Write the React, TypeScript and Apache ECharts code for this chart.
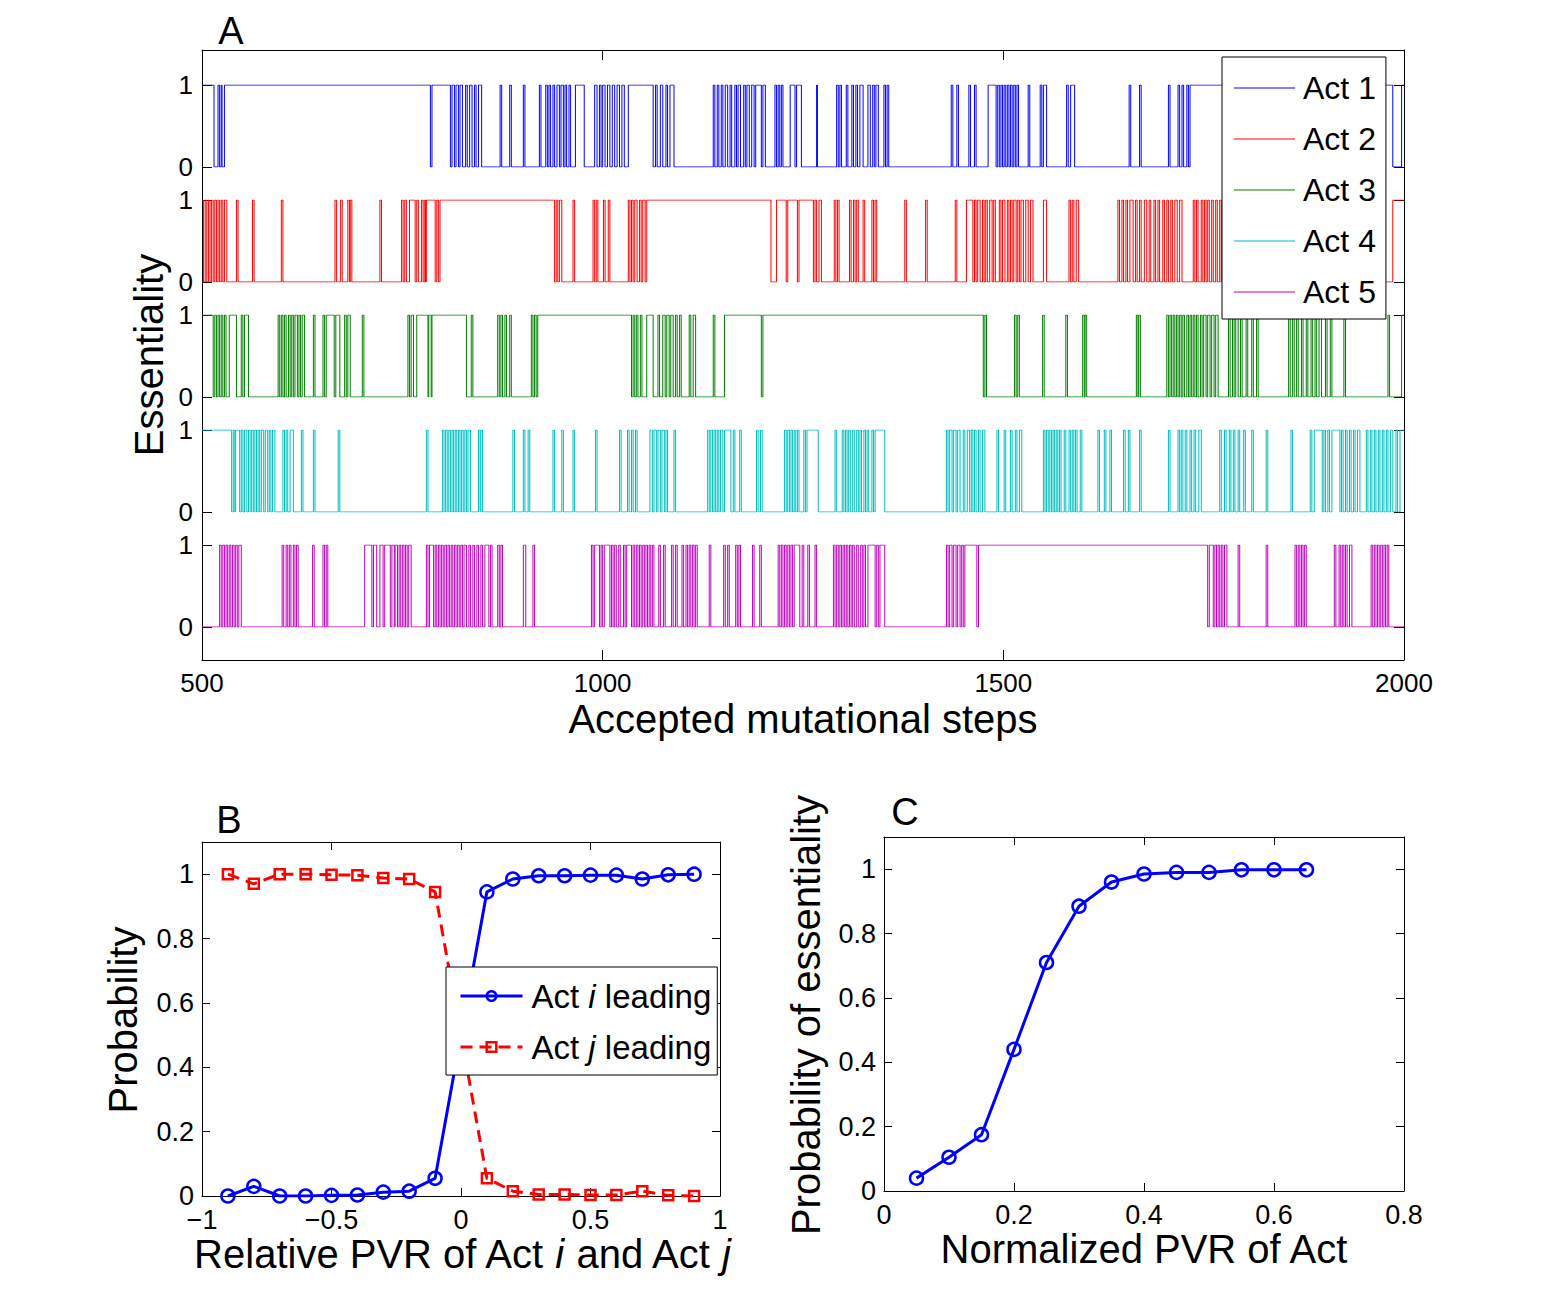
import React, { useEffect, useRef } from 'react';
import * as echarts from 'echarts';

// ---------- Panel A: essentiality traces (start value + steps at which the value flips) ----------
const stepRange = [500, 2000];
const stepTicks = [500, 1000, 1500, 2000];
const actNames = ['Act 1', 'Act 2', 'Act 3', 'Act 4', 'Act 5'];
const actColors = ['#0000ff', '#ff0000', '#008000', '#00bfbf', '#bf00bf'];
const actStart = [1, 1, 1, 1, 0];

const act1Flips = [515, 520, 522, 524, 525, 528, 785, 787, 810, 812, 815, 817, 820, 822, 825, 829, 831, 834, 837, 840, 842, 845, 849,
  872, 874, 884, 886, 901, 903, 921, 923, 929, 931, 933, 935, 938, 940, 943, 946, 948, 951, 953, 955, 958, 960, 966, 977,
  990, 993, 996, 998, 1000, 1003, 1006, 1009, 1012, 1015, 1018, 1021, 1024, 1027, 1032, 1063, 1066, 1068, 1072, 1075, 1079, 1081, 1084, 1089,
  1138, 1140, 1143, 1145, 1148, 1150, 1153, 1156, 1159, 1161, 1165, 1167, 1169, 1172, 1176, 1178, 1180, 1183, 1186, 1189, 1191, 1198, 1200, 1203,
  1215, 1217, 1219, 1221, 1223, 1225, 1234, 1240, 1242, 1248, 1267, 1268,
  1292, 1294, 1296, 1298, 1304, 1306, 1311, 1313, 1316, 1318, 1321, 1325, 1331, 1334, 1337, 1339, 1341, 1344, 1351, 1353, 1355, 1357,
  1435, 1437, 1442, 1444, 1457, 1459, 1464, 1466, 1481, 1491, 1493, 1495, 1497, 1499, 1501, 1503, 1505, 1507, 1509, 1511, 1513, 1515, 1517, 1519,
  1531, 1533, 1546, 1548, 1550, 1554, 1579, 1581, 1584, 1589, 1657, 1659, 1670, 1672, 1706, 1708, 1718, 1720, 1723, 1725, 1729, 1731, 1733,
  1986, 1997];

const act2Flips = [502, 504, 506, 508, 510, 512, 514, 516, 518, 520, 522, 524, 526, 528, 531,
  543, 545, 563, 565, 599, 601, 666, 668, 673, 675, 682, 684, 685, 687, 722, 724, 749, 751, 753, 755,
  759, 766, 768, 770, 774, 776, 778, 779, 780, 791, 793, 795, 797,
  940, 942, 944, 946, 949, 963, 965, 988, 990, 992, 994, 1001, 1003, 1007, 1009,
  1032, 1034, 1036, 1038, 1040, 1043, 1046, 1048, 1050, 1053, 1055,
  1210, 1217, 1229, 1231, 1243, 1245, 1263, 1265, 1267, 1270, 1273, 1289, 1291, 1293, 1295, 1308, 1310, 1313, 1315, 1317, 1319,
  1325, 1327, 1336, 1338, 1340, 1342, 1377, 1379, 1403, 1405,
  1440, 1442, 1454, 1462, 1464, 1466, 1468, 1471, 1474, 1476, 1478, 1480, 1483, 1486, 1488, 1490, 1495, 1497, 1499, 1502,
  1505, 1507, 1509, 1511, 1513, 1516, 1518, 1520, 1522, 1525, 1528, 1531, 1534, 1537, 1550, 1554, 1582, 1584, 1586, 1588, 1591, 1594,
  1643, 1645, 1648, 1650, 1653, 1655, 1658, 1662, 1665, 1667, 1670, 1672, 1676, 1679, 1682, 1684, 1688, 1690, 1693, 1695,
  1699, 1701, 1704, 1706, 1709, 1711, 1714, 1717, 1720, 1723, 1737, 1739, 1741, 1743, 1747, 1749, 1751, 1753, 1755, 1757,
  1760, 1762, 1765, 1767, 1770, 1772, 1986];

const act3Flips = [514, 516, 518, 520, 522, 524, 526, 528, 530, 534, 543, 549, 551, 553, 558,
  595, 597, 599, 601, 603, 605, 608, 610, 612, 614, 616, 619, 621, 623, 625, 628, 639, 641, 651, 653, 655, 665, 667, 672,
  678, 680, 682, 685, 700, 702, 757, 759, 761, 764, 768, 782, 783, 786, 787,
  830, 836, 838, 869, 871, 873, 875, 878, 880, 884, 886, 911, 913, 915, 917, 919,
  1036, 1038, 1040, 1042, 1044, 1047, 1049, 1055, 1063, 1069, 1071, 1075, 1078, 1080, 1083, 1085, 1088, 1091, 1093, 1096, 1098,
  1108, 1110, 1113, 1116, 1138, 1140, 1152, 1198, 1200,
  1475, 1477, 1479, 1514, 1516, 1518, 1520, 1549, 1551, 1578, 1580, 1599, 1601, 1602, 1604, 1666, 1668, 1669, 1671,
  1704, 1706, 1708, 1710, 1712, 1714, 1716, 1718, 1720, 1722, 1724, 1726, 1729, 1731, 1733, 1735, 1737, 1739, 1741, 1743,
  1746, 1748, 1750, 1753, 1755, 1758, 1760, 1763, 1765, 1768, 1781, 1783, 1786, 1788, 1790, 1793, 1796, 1798, 1803, 1805,
  1810, 1812, 1816, 1818, 1856, 1858, 1861, 1863, 1866, 1868, 1872, 1874, 1878, 1880, 1884, 1886, 1889, 1891, 1894, 1897,
  1902, 1904, 1908, 1910, 1925, 1927, 1980, 1982, 1997];

const act4Flips = [537, 539, 541, 542, 547, 549, 551, 553, 556, 558, 560, 562, 564, 566, 568, 570, 572, 574, 577, 579, 582, 584, 586, 588, 591,
  601, 603, 605, 607, 610, 614, 624, 626, 639, 641, 670, 672, 780, 782,
  800, 802, 804, 806, 808, 810, 812, 814, 816, 818, 820, 822, 824, 826, 828, 830, 832, 835, 845, 847, 848, 850,
  888, 890, 901, 903, 907, 909, 938, 940, 949, 951, 963, 965, 991, 993, 1021, 1023, 1031, 1033, 1036, 1038, 1041, 1043,
  1059, 1062, 1064, 1067, 1069, 1072, 1074, 1077, 1079, 1081, 1089, 1091,
  1131, 1133, 1135, 1137, 1139, 1141, 1143, 1145, 1147, 1150, 1152, 1160, 1163, 1165, 1171, 1173, 1192, 1194, 1197, 1199,
  1227, 1229, 1231, 1233, 1235, 1237, 1239, 1241, 1243, 1245, 1251, 1253, 1255, 1269,
  1290, 1292, 1299, 1301, 1303, 1305, 1307, 1309, 1312, 1314, 1317, 1319, 1321, 1323, 1326, 1328, 1330, 1332, 1336, 1338, 1340, 1352,
  1429, 1431, 1433, 1436, 1438, 1441, 1443, 1446, 1450, 1452, 1455, 1458, 1460, 1462, 1464, 1466, 1469, 1471, 1474, 1477,
  1492, 1494, 1501, 1503, 1509, 1511, 1515, 1517, 1520, 1523, 1550, 1552, 1554, 1556, 1558, 1560, 1562, 1564, 1566, 1568,
  1570, 1572, 1576, 1578, 1582, 1584, 1586, 1588, 1590, 1592, 1596, 1598, 1618, 1620, 1626, 1628, 1633, 1635, 1650, 1652,
  1656, 1658, 1670, 1672, 1706, 1708, 1718, 1720, 1722, 1724, 1727, 1729, 1733, 1735, 1738, 1740, 1744, 1747,
  1770, 1772, 1776, 1778, 1782, 1784, 1787, 1789, 1793, 1795, 1800, 1802, 1810, 1812, 1828, 1830, 1859, 1861,
  1883, 1885, 1888, 1898, 1900, 1902, 1905, 1907, 1910, 1920, 1922, 1924, 1927, 1929, 1932, 1934, 1937, 1939, 1942, 1945,
  1953, 1955, 1958, 1960, 1963, 1965, 1968, 1970, 1973, 1975, 1978, 1980, 1983, 1986, 1990, 1992, 1995];

const act5Flips = [522, 524, 526, 528, 530, 532, 534, 536, 538, 540, 542, 544, 546, 549,
  600, 602, 605, 607, 609, 611, 614, 616, 618, 620, 638, 640, 651, 653, 655, 657,
  703, 712, 714, 718, 722, 726, 728, 735, 737, 740, 741, 744, 746, 748, 750, 752, 754, 756, 758, 761,
  780, 782, 784, 789, 791, 793, 795, 797, 799, 801, 803, 805, 807, 809, 811, 813, 815, 817, 819, 821, 823, 825, 827, 830,
  833, 835, 838, 840, 843, 845, 848, 850, 853, 858, 860, 862, 869, 871, 873, 875, 901, 904, 913, 915,
  986, 988, 990, 996, 998, 1000, 1002, 1009, 1011, 1013, 1015, 1017, 1020, 1022, 1026, 1028, 1030, 1036, 1038, 1040,
  1042, 1044, 1046, 1048, 1050, 1052, 1054, 1056, 1058, 1060, 1062, 1064, 1070, 1072, 1076, 1078, 1086, 1088, 1091, 1093,
  1099, 1101, 1104, 1106, 1108, 1110, 1112, 1114, 1116, 1118, 1133, 1135, 1151, 1153, 1156, 1158, 1166, 1168, 1170, 1172,
  1187, 1189, 1196, 1198, 1219, 1221, 1223, 1225, 1227, 1229, 1231, 1233, 1235, 1237, 1239, 1246, 1249, 1251, 1256, 1258, 1265, 1267,
  1288, 1290, 1292, 1294, 1296, 1298, 1300, 1302, 1304, 1306, 1308, 1310, 1312, 1314, 1317, 1319, 1322, 1324, 1326, 1328,
  1331, 1340, 1342, 1344, 1346, 1352,
  1429, 1431, 1433, 1436, 1438, 1441, 1443, 1446, 1448, 1450, 1452, 1467, 1469,
  1755, 1757, 1762, 1764, 1766, 1768, 1770, 1772, 1774, 1776, 1779, 1793, 1795, 1828, 1830,
  1864, 1866, 1868, 1870, 1872, 1874, 1876, 1878, 1913, 1915, 1919, 1921, 1923, 1925, 1927, 1929, 1932, 1935,
  1959, 1961, 1963, 1965, 1967, 1969, 1971, 1973, 1975, 1977, 1979, 1981];

const actFlips = [act1Flips, act2Flips, act3Flips, act4Flips, act5Flips];

// ---------- Panel B ----------
const relativePvr = [-0.9, -0.8, -0.7, -0.6, -0.5, -0.4, -0.3, -0.2, -0.1, 0.1, 0.2, 0.3, 0.4, 0.5, 0.6, 0.7, 0.8, 0.9];
const actILeading = [0.0, 0.03, 0.0, 0.0, 0.002, 0.003, 0.012, 0.015, 0.055, 0.945, 0.985, 0.995, 0.995, 0.997, 0.997, 0.985, 0.998, 1.0];
const actJLeading = [1.0, 0.97, 1.0, 1.0, 0.998, 0.997, 0.988, 0.985, 0.945, 0.055, 0.015, 0.005, 0.005, 0.003, 0.003, 0.015, 0.002, 0.0];
const relativeTicks = [-1, -0.5, 0, 0.5, 1];

// ---------- Panel C ----------
const normalizedPvr = [0.05, 0.1, 0.15, 0.2, 0.25, 0.3, 0.35, 0.4, 0.45, 0.5, 0.55, 0.6, 0.65];
const essentialityProb = [0.04, 0.105, 0.175, 0.44, 0.71, 0.885, 0.96, 0.985, 0.99, 0.99, 0.998, 0.998, 0.998];
const normalizedTicks = [0, 0.2, 0.4, 0.6, 0.8];
const probTicks = [0, 0.2, 0.4, 0.6, 0.8, 1];

const FONT = '"Liberation Sans", Arial, Helvetica, sans-serif';

function buildSteps(start: number, flips: number[]) {
  const pts: number[][] = [[stepRange[0], start]];
  let v = start;
  for (const t of flips) {
    v = 1 - v;
    pts.push([t, v]);
  }
  pts.push([stepRange[1], v]);
  return pts;
}

const fmtMinus = (v: number) => String(Math.round(v * 1000) / 1000).replace('-', '\u2212');
const onList = (list: number[]) => (v: number) => (list.some((t) => Math.abs(t - v) < 1e-9) ? fmtMinus(v) : '');

export default function App() {
  const ref = useRef<HTMLDivElement>(null);
  useEffect(() => {
    if (!ref.current) return;
    const chart = echarts.init(ref.current, null, { renderer: 'svg' });

    const frameLine = { show: true, onZero: false, lineStyle: { color: '#000', width: 1 } };
    const noLine = { show: false, onZero: false };
    const tickIn = (len: number) => ({ show: true, inside: true, length: len, lineStyle: { color: '#000', width: 1 } });
    const labelStyle = (size: number, margin: number) => ({ color: '#000', fontSize: size, fontFamily: FONT, margin, lineHeight: 20 });

    const grids: any[] = [];
    const xAxes: any[] = [];
    const yAxes: any[] = [];
    const series: any[] = [];

    // grid 0: panel A frame
    grids.push({ left: 202, top: 50, width: 1202, height: 610 });
    xAxes.push({ gridIndex: 0, type: 'value', position: 'bottom', min: stepRange[0], max: stepRange[1], interval: 500,
      axisLine: frameLine, axisTick: tickIn(10), splitLine: { show: false },
      axisLabel: { ...labelStyle(26, 13), formatter: onList(stepTicks) } });
    xAxes.push({ gridIndex: 0, type: 'value', position: 'top', min: stepRange[0], max: stepRange[1], interval: 500,
      axisLine: frameLine, axisTick: tickIn(10), splitLine: { show: false }, axisLabel: { show: false } });
    yAxes.push({ gridIndex: 0, type: 'value', position: 'left', min: 0, max: 1, axisLine: frameLine,
      axisTick: { show: false }, axisLabel: { show: false }, splitLine: { show: false } });
    yAxes.push({ gridIndex: 0, type: 'value', position: 'right', min: 0, max: 1, axisLine: frameLine,
      axisTick: { show: false }, axisLabel: { show: false }, splitLine: { show: false } });

    // grids 1..5: traces
    for (let k = 0; k < 5; k++) {
      const g = grids.length;
      grids.push({ left: 202, top: 85 + 115 * k, width: 1202, height: 82 });
      const xi = xAxes.length;
      xAxes.push({ gridIndex: g, type: 'value', min: stepRange[0], max: stepRange[1], show: false, axisLine: noLine });
      const yi = yAxes.length;
      yAxes.push({ gridIndex: g, type: 'value', position: 'left', min: 0, max: 1, interval: 1,
        axisLine: noLine, axisTick: tickIn(10), splitLine: { show: false },
        axisLabel: labelStyle(26, 9) });
      yAxes.push({ gridIndex: g, type: 'value', position: 'right', min: 0, max: 1, interval: 1,
        axisLine: noLine, axisTick: tickIn(10), splitLine: { show: false }, axisLabel: { show: false } });
      series.push({
        name: actNames[k], type: 'line', xAxisIndex: xi, yAxisIndex: yi, step: 'end',
        data: buildSteps(actStart[k], actFlips[k]), symbol: 'none', showSymbol: false,
        lineStyle: { color: actColors[k], width: 1 }, itemStyle: { color: actColors[k] }, z: 2,
      });
    }

    // panel B
    const gB = grids.length;
    grids.push({ left: 202, top: 842, width: 518, height: 354 });
    const xB = xAxes.length;
    xAxes.push({ gridIndex: gB, type: 'value', position: 'bottom', min: -1, max: 1, interval: 0.5,
      axisLine: frameLine, axisTick: tickIn(8), splitLine: { show: false },
      axisLabel: { ...labelStyle(27, 14), formatter: onList(relativeTicks) } });
    xAxes.push({ gridIndex: gB, type: 'value', position: 'top', min: -1, max: 1, interval: 0.5,
      axisLine: frameLine, axisTick: tickIn(8), splitLine: { show: false }, axisLabel: { show: false } });
    const yB = yAxes.length;
    yAxes.push({ gridIndex: gB, type: 'value', position: 'left', min: 0, max: 1.1, interval: 0.2,
      axisLine: frameLine, axisTick: tickIn(8), splitLine: { show: false },
      axisLabel: { ...labelStyle(27, 8), showMaxLabel: false, formatter: onList(probTicks) } });
    yAxes.push({ gridIndex: gB, type: 'value', position: 'right', min: 0, max: 1.1, interval: 0.2,
      axisLine: frameLine, axisTick: tickIn(8), splitLine: { show: false }, axisLabel: { show: false } });
    series.push({
      name: 'Act i leading', type: 'line', xAxisIndex: xB, yAxisIndex: yB,
      data: relativePvr.map((x, i) => [x, actILeading[i]]), symbol: 'circle', symbolSize: 13, showSymbol: true,
      lineStyle: { color: '#0000ff', width: 3 },
      itemStyle: { color: 'rgba(255,255,255,0)', borderColor: '#0000ff', borderWidth: 2.5 }, z: 3,
    });
    series.push({
      name: 'Act j leading', type: 'line', xAxisIndex: xB, yAxisIndex: yB,
      data: relativePvr.map((x, i) => [x, actJLeading[i]]), symbol: 'rect', symbolSize: 10, showSymbol: true,
      lineStyle: { color: '#ff0000', width: 3, type: [12, 7] },
      itemStyle: { color: 'rgba(255,255,255,0)', borderColor: '#ff0000', borderWidth: 2.5 }, z: 3,
    });

    // panel C
    const gC = grids.length;
    grids.push({ left: 884, top: 837, width: 520, height: 354 });
    const xC = xAxes.length;
    xAxes.push({ gridIndex: gC, type: 'value', position: 'bottom', min: 0, max: 0.8, interval: 0.2,
      axisLine: frameLine, axisTick: tickIn(8), splitLine: { show: false },
      axisLabel: { ...labelStyle(27, 14), formatter: onList(normalizedTicks) } });
    xAxes.push({ gridIndex: gC, type: 'value', position: 'top', min: 0, max: 0.8, interval: 0.2,
      axisLine: frameLine, axisTick: tickIn(8), splitLine: { show: false }, axisLabel: { show: false } });
    const yC = yAxes.length;
    yAxes.push({ gridIndex: gC, type: 'value', position: 'left', min: 0, max: 1.1, interval: 0.2,
      axisLine: frameLine, axisTick: tickIn(8), splitLine: { show: false },
      axisLabel: { ...labelStyle(27, 8), showMaxLabel: false, formatter: onList(probTicks) } });
    yAxes.push({ gridIndex: gC, type: 'value', position: 'right', min: 0, max: 1.1, interval: 0.2,
      axisLine: frameLine, axisTick: tickIn(8), splitLine: { show: false }, axisLabel: { show: false } });
    series.push({
      name: 'Probability of essentiality', type: 'line', xAxisIndex: xC, yAxisIndex: yC,
      data: normalizedPvr.map((x, i) => [x, essentialityProb[i]]), symbol: 'circle', symbolSize: 13, showSymbol: true,
      lineStyle: { color: '#0000ff', width: 3 },
      itemStyle: { color: 'rgba(255,255,255,0)', borderColor: '#0000ff', borderWidth: 2.5 }, z: 3,
    });

    const txt = (text: string, x: number, y: number, size: number, rot = 0) => ({
      type: 'text', x, y, rotation: rot, z: 10,
      style: { text, fontSize: size, fontFamily: FONT, fill: '#000', textAlign: 'center', textVerticalAlign: 'middle', lineHeight: Math.round(size * 0.8) },
    });
    const richStyle = (size: number, lh: number) => ({
      n: { fontSize: size, fontFamily: FONT, fill: '#000', color: '#000', lineHeight: lh },
      it: { fontSize: size, fontFamily: FONT, fontStyle: 'italic', fill: '#000', color: '#000', lineHeight: lh },
    });

    const option: any = {
      animation: false,
      backgroundColor: '#fff',
      grid: grids,
      xAxis: xAxes,
      yAxis: yAxes,
      series,
      legend: [
        {
          data: actNames.map((n) => ({ name: n, icon: 'rect' })), orient: 'vertical', left: 1222, top: 57,
          itemWidth: 61, itemHeight: 1, itemGap: 15, padding: [13, 10, 9, 12],
          backgroundColor: '#fff', borderColor: '#000', borderWidth: 1, selectedMode: false,
          textStyle: { fontSize: 32, fontFamily: FONT, color: '#000', lineHeight: 36, padding: [0, 0, 0, 3] },
          z: 10,
        },
        {
          data: ['Act i leading', 'Act j leading'], orient: 'vertical', left: 446, top: 967,
          itemWidth: 62, itemHeight: 12, itemGap: 15, padding: [11, 6, 10, 13],
          backgroundColor: '#fff', borderColor: '#000', borderWidth: 1, selectedMode: false,
          lineStyle: { width: 3 },
          itemStyle: { borderWidth: 2.5 },
          formatter: (name: string) => (name === 'Act i leading' ? '{n|Act }{it|i}{n| leading}' : '{n|Act }{it|j}{n| leading}'),
          textStyle: { fontSize: 33, fontFamily: FONT, color: '#000', lineHeight: 36, padding: [0, 0, 0, 4], rich: richStyle(33, 36) },
          z: 10,
        },
      ],
      graphic: [
        txt('A', 231, 31, 38),
        txt('Essentiality', 149, 355, 40, Math.PI / 2),
        txt('Accepted mutational steps', 803, 719, 40),
        txt('B', 229, 820, 38),
        txt('Probability', 123, 1020, 40, Math.PI / 2),
        {
          type: 'text', x: 462, y: 1254, z: 10,
          style: { text: '{n|Relative PVR of Act }{it|i}{n| and Act }{it|j}', rich: richStyle(40, 32), textAlign: 'center', textVerticalAlign: 'middle', fontSize: 40, fontFamily: FONT, fill: '#000' },
        },
        txt('C', 905, 812, 38),
        txt('Probability of essentiality', 806, 1015, 40, Math.PI / 2),
        txt('Normalized PVR of Act', 1144, 1249, 40),
      ],
    };

    chart.setOption(option);
    return () => chart.dispose();
  }, []);

  return <div ref={ref} style={{ position: 'absolute', left: 0, top: 0, width: 1550, height: 1292 }} />;
}
